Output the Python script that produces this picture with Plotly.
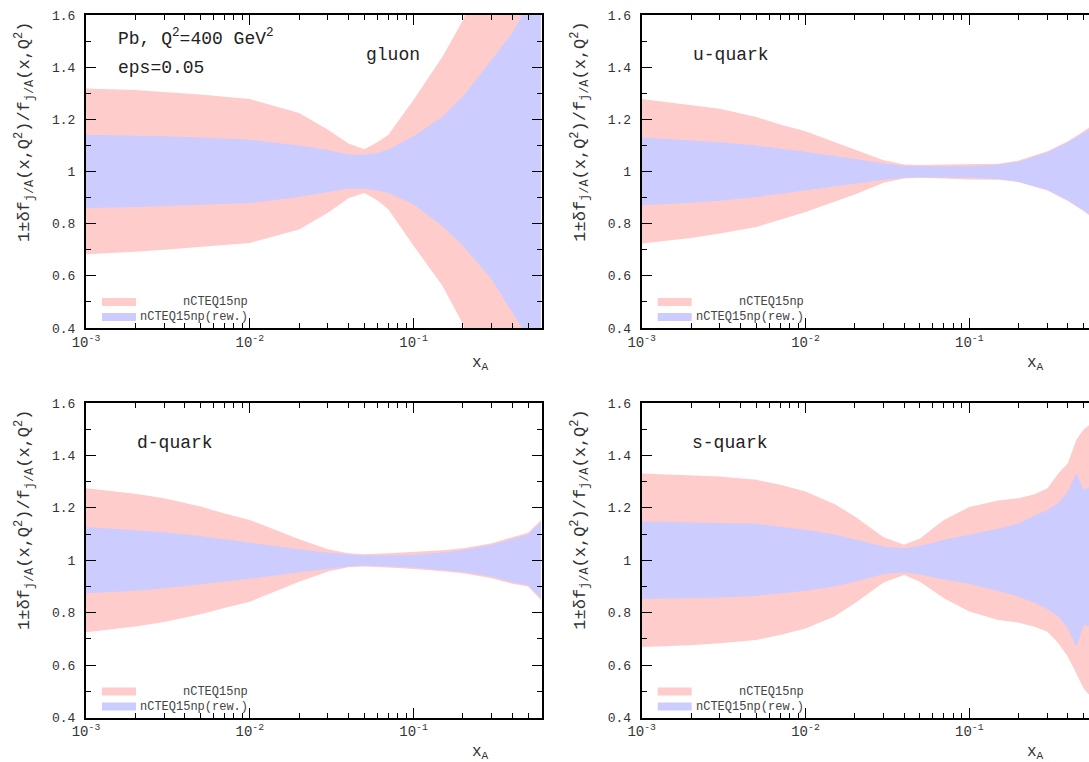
import plotly.graph_objects as go

# ---------------- data ----------------
x_g = [0.001, 0.002, 0.003, 0.005, 0.01, 0.02, 0.03, 0.04, 0.05, 0.06, 0.07, 0.1, 0.15, 0.2, 0.3, 0.4, 0.5, 0.6]
g_red_up = [1.318, 1.312, 1.305, 1.295, 1.278, 1.224, 1.16, 1.107, 1.085, 1.112, 1.14, 1.275, 1.44, 1.58, 1.85, 2.0, 2.15, 2.3]
g_red_lo = [0.683, 0.692, 0.70, 0.71, 0.726, 0.778, 0.842, 0.897, 0.918, 0.89, 0.855, 0.715, 0.562, 0.415, 0.15, 0.0, -0.15, -0.3]
g_blue_up = [1.141, 1.138, 1.135, 1.13, 1.122, 1.10, 1.082, 1.065, 1.064, 1.071, 1.084, 1.135, 1.21, 1.288, 1.428, 1.53, 1.64, 1.75]
g_blue_lo = [0.86, 0.864, 0.867, 0.872, 0.879, 0.902, 0.922, 0.935, 0.935, 0.927, 0.918, 0.874, 0.79, 0.715, 0.587, 0.46, 0.36, 0.27]

x_q = [0.001, 0.002, 0.003, 0.005, 0.007, 0.01, 0.02, 0.03, 0.04, 0.05, 0.07, 0.1, 0.15, 0.2, 0.3, 0.4, 0.5, 0.6]
u_red_up = [1.278, 1.256, 1.241, 1.209, 1.18, 1.154, 1.084, 1.043, 1.027, 1.025, 1.027, 1.029, 1.03, 1.042, 1.078, 1.116, 1.154, 1.19]
u_red_lo = [0.724, 0.745, 0.762, 0.787, 0.815, 0.845, 0.912, 0.957, 0.973, 0.976, 0.973, 0.969, 0.968, 0.96, 0.927, 0.887, 0.848, 0.81]
u_blue_up = [1.13, 1.12, 1.112, 1.10, 1.088, 1.076, 1.048, 1.031, 1.022, 1.02, 1.02, 1.02, 1.027, 1.037, 1.074, 1.112, 1.148, 1.18]
u_blue_lo = [0.871, 0.88, 0.888, 0.902, 0.915, 0.929, 0.953, 0.968, 0.977, 0.978, 0.977, 0.977, 0.971, 0.96, 0.93, 0.889, 0.852, 0.82]

d_red_up = [1.275, 1.254, 1.237, 1.205, 1.178, 1.154, 1.08, 1.042, 1.027, 1.023, 1.027, 1.031, 1.038, 1.046, 1.065, 1.088, 1.105, 1.154]
d_red_lo = [0.725, 0.747, 0.764, 0.794, 0.818, 0.842, 0.918, 0.957, 0.973, 0.976, 0.972, 0.967, 0.958, 0.95, 0.931, 0.91, 0.90, 0.848]
d_blue_up = [1.127, 1.116, 1.107, 1.093, 1.08, 1.068, 1.042, 1.029, 1.022, 1.018, 1.019, 1.02, 1.03, 1.039, 1.059, 1.08, 1.098, 1.148]
d_blue_lo = [0.874, 0.884, 0.893, 0.906, 0.918, 0.929, 0.954, 0.968, 0.976, 0.98, 0.977, 0.972, 0.963, 0.955, 0.938, 0.916, 0.905, 0.855]

x_s = [0.001, 0.002, 0.003, 0.005, 0.007, 0.01, 0.015, 0.02, 0.03, 0.04, 0.05, 0.06, 0.07, 0.1, 0.15, 0.2, 0.25, 0.3, 0.35, 0.4, 0.45, 0.5, 0.55, 0.6]
s_red_up = [1.331, 1.324, 1.32, 1.307, 1.288, 1.262, 1.215, 1.167, 1.088, 1.059, 1.083, 1.122, 1.154, 1.203, 1.228, 1.237, 1.252, 1.275, 1.332, 1.37, 1.46, 1.50, 1.52, 1.55]
s_red_lo = [0.669, 0.676, 0.683, 0.696, 0.715, 0.74, 0.785, 0.836, 0.915, 0.944, 0.918, 0.884, 0.855, 0.804, 0.772, 0.762, 0.746, 0.727, 0.683, 0.632, 0.568, 0.51, 0.48, 0.45]
s_blue_up = [1.148, 1.145, 1.142, 1.139, 1.128, 1.116, 1.098, 1.08, 1.052, 1.046, 1.055, 1.066, 1.078, 1.097, 1.12, 1.141, 1.171, 1.192, 1.218, 1.262, 1.332, 1.269, 1.28, 1.29]
s_blue_lo = [0.852, 0.855, 0.858, 0.864, 0.874, 0.884, 0.9, 0.918, 0.948, 0.953, 0.946, 0.937, 0.927, 0.91, 0.883, 0.861, 0.838, 0.813, 0.785, 0.74, 0.67, 0.753, 0.746, 0.74]

panel_names = ["gluon", "u-quark", "d-quark", "s-quark"]
legend_names = ["nCTEQ15np", "nCTEQ15np(rew.)"]
y_ticks = [0.4, 0.6, 0.8, 1.0, 1.2, 1.4, 1.6]
y_ticktext = ["0.4", "0.6", "0.8", "1", "1.2", "1.4", "1.6"]
y_minor = [0.5, 0.7, 0.9, 1.1, 1.3, 1.5]
x_ticks = [0.001, 0.01, 0.1]
x_ticktext = ["10<sup>-3</sup>", "10<sup>-2</sup>", "10<sup>-1</sup>"]
x_minor = [m * d for d in (0.001, 0.01, 0.1) for m in range(2, 10)]

RED = "rgb(255,204,204)"
BLUE = "rgb(204,204,255)"
FONT = "Liberation Mono"
W, H = 1089, 762

panels = [
    (x_g, g_red_up, g_red_lo, g_blue_up, g_blue_lo),
    (x_q, u_red_up, u_red_lo, u_blue_up, u_blue_lo),
    (x_q, d_red_up, d_red_lo, d_blue_up, d_blue_lo),
    (x_s, s_red_up, s_red_lo, s_blue_up, s_blue_lo),
]

# pixel geometry of the four frames
left_px = [86.0, 641.7, 86.0, 641.7]
right_px = [541.7, 1089.0, 541.7, 1089.0]
top_px = [15.0, 15.0, 403.0, 403.0]
bot_px = [328.0, 328.0, 717.5, 717.5]
decade_px = 163.8

fig = go.Figure()
for i, (xs, ru, rl, bu, bl) in enumerate(panels):
    ax = "" if i == 0 else str(i + 1)
    for up, lo, col, nm in ((ru, rl, RED, legend_names[0]), (bu, bl, BLUE, legend_names[1])):
        fig.add_trace(go.Scatter(
            x=list(xs) + list(xs[::-1]), y=list(up) + list(lo[::-1]),
            fill="toself", fillcolor=col, line=dict(width=0, color=col),
            mode="lines", name=nm, showlegend=False, hoverinfo="skip",
            xaxis="x" + ax, yaxis="y" + ax))

layout = dict(width=W, height=H, margin=dict(l=0, r=0, t=0, b=0, pad=0, autoexpand=False),
              paper_bgcolor="white", plot_bgcolor="white", showlegend=False,
              font=dict(family=FONT, color="#333"))
annotations = []
shapes = []
for i in range(4):
    ax = "" if i == 0 else str(i + 1)
    xdom = [left_px[i] / W, right_px[i] / W]
    ydom = [1 - bot_px[i] / H, 1 - top_px[i] / H]
    xmax_log = -3 + (right_px[i] - left_px[i]) / decade_px
    right_cut = i in (1, 3)
    layout["xaxis" + ax] = dict(
        type="log", domain=xdom, range=[-3, xmax_log], anchor="y" + ax, automargin=False,
        showline=True, linecolor="black", linewidth=2, mirror="ticks",
        ticks="inside", ticklen=10, tickwidth=1, tickcolor="black",
        tickvals=x_ticks, ticktext=x_ticktext, showgrid=False, zeroline=False,
        tickfont=dict(family=FONT, size=14, color="#333"),
        minor=dict(tickvals=x_minor, ticks="inside", ticklen=5, tickwidth=1,
                   tickcolor="black", showgrid=False))
    layout["yaxis" + ax] = dict(
        domain=ydom, range=[0.4, 1.6], anchor="x" + ax, automargin=False,
        showline=True, linecolor="black", linewidth=2,
        mirror=False if right_cut else "ticks",
        ticks="inside", ticklen=10, tickwidth=1, tickcolor="black",
        tickvals=y_ticks, ticktext=y_ticktext, showgrid=False, zeroline=False,
        ticklabelstandoff=6,
        tickfont=dict(family=FONT, size=13, color="#333"),
        minor=dict(tickvals=y_minor, ticks="inside", ticklen=5, tickwidth=1,
                   tickcolor="black", showgrid=False))

    # y-axis title
    ycen = top_px[i] + 117
    annotations.append(dict(
        text="1±δf<sub>j/A</sub>(x,Q<sup>2</sup>)/f<sub>j/A</sub>(x,Q<sup>2</sup>)",
        xref="paper", yref="paper", x=(left_px[i] - 62) / W, y=1 - ycen / H,
        xanchor="center", yanchor="middle", textangle=-90, showarrow=False,
        font=dict(family=FONT, size=17, color="#333")))
    # x-axis title
    annotations.append(dict(
        text="x<sub>A</sub>", xref="paper", yref="paper",
        x=(left_px[i] + 394) / W, y=1 - (bot_px[i] + 35) / H,
        xanchor="center", yanchor="middle", showarrow=False,
        font=dict(family=FONT, size=16, color="#333")))

    # legend (gnuplot style: swatch left, label right-aligned)
    lx = left_px[i]
    by = bot_px[i]
    for k, (col, nm) in enumerate(((RED, legend_names[0]), (BLUE, legend_names[1]))):
        yc = by - 26 + 15 * k
        shapes.append(dict(type="rect", xref="paper", yref="paper",
                           x0=(lx + 16) / W, x1=(lx + 50) / W,
                           y0=1 - (yc + 4) / H, y1=1 - (yc - 4) / H,
                           fillcolor=col, line=dict(width=0), layer="above"))
        annotations.append(dict(
            text=nm, xref="paper", yref="paper", x=(lx + 164) / W, y=1 - yc / H,
            xanchor="right", yanchor="middle", showarrow=False,
            font=dict(family=FONT, size=12, color="#444")))

# panel labels
label_pos = [(364, 55), (691, 55), (135, 443), (690, 443)]
for name, (px, py) in zip(panel_names, label_pos):
    annotations.append(dict(text=name, xref="paper", yref="paper", x=px / W, y=1 - py / H,
                            xanchor="left", yanchor="middle", showarrow=False,
                            font=dict(family=FONT, size=18, color="#222")))
annotations.append(dict(text="Pb, Q<sup>2</sup>=400 GeV<sup>2</sup>", xref="paper", yref="paper",
                        x=116 / W, y=1 - 38 / H, xanchor="left", yanchor="middle",
                        showarrow=False, font=dict(family=FONT, size=18, color="#222")))
annotations.append(dict(text="eps=0.05", xref="paper", yref="paper",
                        x=116 / W, y=1 - 68 / H, xanchor="left", yanchor="middle",
                        showarrow=False, font=dict(family=FONT, size=18, color="#222")))

layout["annotations"] = annotations
layout["shapes"] = shapes
fig.update_layout(**layout)
fig.write_html("out.html",
               post_script="document.body.style.margin='0';document.body.style.overflow='hidden';")
